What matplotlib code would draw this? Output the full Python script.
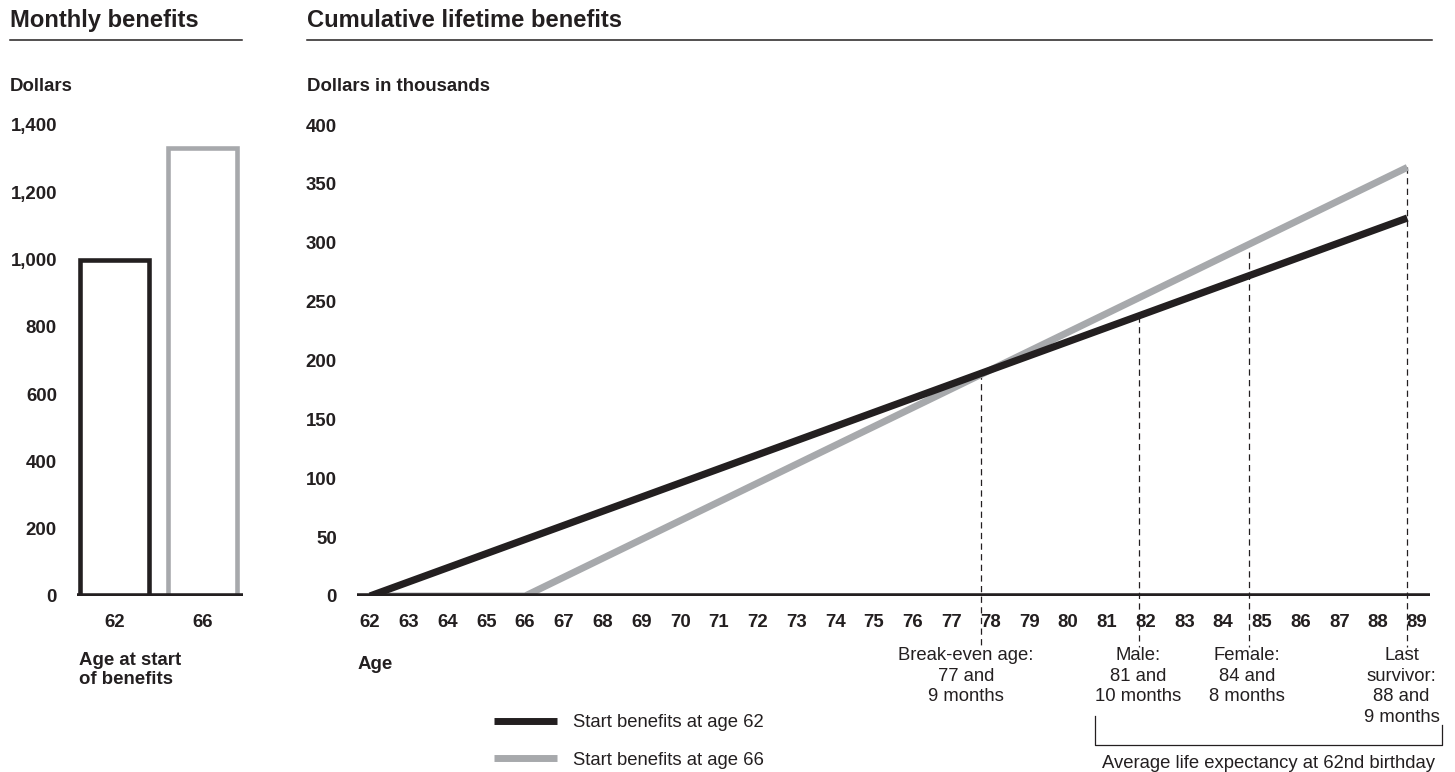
import matplotlib
matplotlib.use("Agg")
import matplotlib.pyplot as plt
from matplotlib.lines import Line2D

# ---------------- data ----------------
start_ages = ["62", "66"]
monthly_benefit = [1000, 1333]

ages_62 = [62, 88.75]
cum_62 = [0, 321]          # thousands of dollars
ages_66 = [62, 66, 88.75]
cum_66 = [0, 0, 364]

x_ticks = list(range(62, 90))
y_ticks_left = [0, 200, 400, 600, 800, 1000, 1200, 1400]
y_ticks_right = [0, 50, 100, 150, 200, 250, 300, 350, 400]

marker_ages = [77.75, 81.83, 84.67, 88.75]
marker_tops = [189, 238, 292, 364]
marker_labels = ["Break-even age:\n77 and\n9 months",
                 "Male:\n81 and\n10 months",
                 "Female:\n84 and\n8 months",
                 "Last\nsurvivor:\n88 and\n9 months"]
marker_label_x = [77.37, 81.8, 84.62, 88.6]

series_labels = ["Start benefits at age 62", "Start benefits at age 66"]

# ---------------- style ----------------
BLACK = "#231f20"
GREY = "#a7a9ac"
FONT = "Liberation Sans"
plt.rcParams["font.family"] = [FONT, "DejaVu Sans"]
plt.rcParams["text.color"] = BLACK

W, H = 1455, 772
fig = plt.figure(figsize=(W / 100, H / 100), dpi=100)


def fx(x):
    return x / W


def fy(y):
    return 1 - y / H


def box(l, t, r, b):
    return [fx(l), fy(b), (r - l) / W, (b - t) / H]


TICK_FS = 13.4
REG_FS = 13.3
# ---------------- left panel ----------------
axL = fig.add_axes(box(77, 125, 243, 596))
xpos = [0, 1]
axL.bar(xpos, monthly_benefit, width=0.775, facecolor="none",
        edgecolor=[BLACK, GREY], linewidth=3.3, zorder=2)
axL.axhline(0, color=BLACK, lw=4.0, zorder=3, solid_capstyle="butt")
axL.set_xlim(-0.426, 1.46)
axL.set_ylim(0, 1400)
axL.set_xticks(xpos)
axL.set_xticklabels(start_ages)
axL.set_yticks(y_ticks_left)
axL.set_yticklabels([f"{v:,}" for v in y_ticks_left])

# ---------------- right panel ----------------
axR = fig.add_axes(box(357, 125, 1430, 596))
l62, = axR.plot(ages_62, cum_62, color=BLACK, lw=5.2, zorder=3,
                solid_capstyle="butt", label=series_labels[0])
l66, = axR.plot(ages_66, cum_66, color=GREY, lw=5.0, zorder=2,
                solid_capstyle="butt", label=series_labels[1])
axR.axhline(0, color=BLACK, lw=4.0, zorder=4, solid_capstyle="butt")
axR.set_xlim(62 - 13 / 38.78, 89 + 13 / 38.78)
axR.set_ylim(0, 400)
axR.set_xticks(x_ticks)
axR.set_yticks(y_ticks_right)

for xa, top in zip(marker_ages, marker_tops):
    axR.plot([xa, xa], [top, -43], color=BLACK, lw=0.9,
             dashes=(5, 3.5), clip_on=False, zorder=1)

for xl, txt in zip(marker_label_x, marker_labels):
    axR.text(xl, -(647 - 596) / 1.1775, txt, ha="center", va="top",
             multialignment="center", fontsize=REG_FS, linespacing=1.28,
             fontfamily=FONT, color=BLACK, clip_on=False)

for ax in (axL, axR):
    for s in ax.spines.values():
        s.set_visible(False)
    ax.tick_params(axis="both", length=0, labelsize=TICK_FS,
                   labelcolor=BLACK)
    ax.tick_params(axis="y", pad=14.4)
    ax.tick_params(axis="x", pad=13.2)
    for lab in ax.get_xticklabels() + ax.get_yticklabels():
        lab.set_fontweight("bold")
        lab.set_fontfamily(FONT)
    ax.set_facecolor("none")

# ---------------- titles and labels ----------------
fig.text(fx(10), fy(27), "Monthly benefits", fontsize=17.1,
         fontweight="bold", va="baseline", ha="left")
fig.text(fx(307), fy(27), "Cumulative lifetime benefits", fontsize=17.1,
         fontweight="bold", va="baseline", ha="left")
fig.add_artist(Line2D([fx(10), fx(242)], [fy(40), fy(40)], color=BLACK, lw=1.1))
fig.add_artist(Line2D([fx(307), fx(1432)], [fy(40), fy(40)], color=BLACK, lw=1.1))

fig.text(fx(10), fy(91), "Dollars", fontsize=TICK_FS, fontweight="bold",
         va="baseline", ha="left")
fig.text(fx(307), fy(91), "Dollars in thousands", fontsize=TICK_FS,
         fontweight="bold", va="baseline", ha="left")
fig.text(fx(79), fy(652), "Age at start\nof benefits", fontsize=TICK_FS,
         fontweight="bold", va="top", ha="left", linespacing=1.17)
fig.text(fx(358), fy(669), "Age", fontsize=TICK_FS, fontweight="bold",
         va="baseline", ha="left")

# bracket
fig.add_artist(Line2D([fx(1095), fx(1095), fx(1442), fx(1442)],
                      [fy(716), fy(745), fy(745), fy(725)],
                      color=BLACK, lw=0.9))
fig.text(fx(1269), fy(763), "Average life expectancy at 62nd birthday",
         fontsize=REG_FS, ha="center", va="center")

# legend
leg = fig.legend(handles=[l62, l66], loc="upper left",
                 bbox_to_anchor=(fx(494), fy(714)), frameon=False,
                 fontsize=REG_FS, handlelength=3.42, handletextpad=0.87,
                 labelspacing=1.13, borderpad=0, borderaxespad=0)
for t in leg.get_texts():
    t.set_color(BLACK)
for h in leg.legend_handles:
    h.set_linewidth(5.0)

fig.savefig("out.png", dpi=100)
